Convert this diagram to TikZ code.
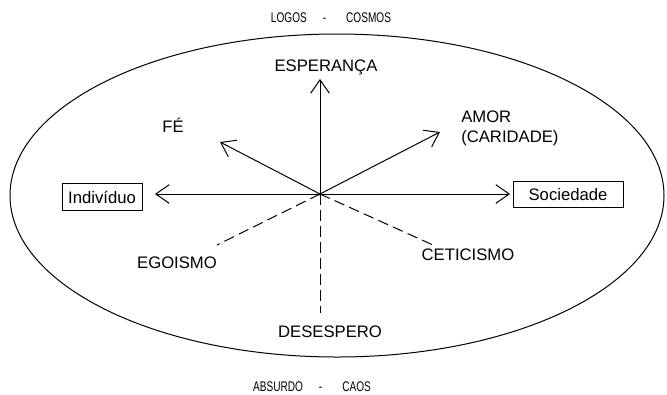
\documentclass[tikz,border=0pt]{standalone}
\usepackage{fontspec}
\setmainfont{Liberation Sans}
\newfontfamily\narrowfont[FakeStretch=0.72]{Liberation Sans}
\usetikzlibrary{arrows.meta}
\tikzset{
    lbl/.style={font=\fontsize{12.5}{15}\selectfont, inner sep=0pt},
    caixa/.style={draw, line width=0.75pt, font=\fontsize{12.5}{15}\selectfont, inner sep=0pt, minimum height=20pt},
    eixo/.style={font=\narrowfont\fontsize{10.5}{12}\selectfont, inner sep=0pt},
    seta/.style={line width=0.75pt, -{Straight Barb[length=10pt,width=14pt,line width=0.75pt]}},
    traco/.style={line width=0.75pt, dash pattern=on 8pt off 4pt},
}
\begin{document}
\begin{tikzpicture}[x=0.75pt,y=-0.75pt]
        \useasboundingbox (0,0) rectangle (667,394);
        \draw [line width=0.75pt] (337,195.5) ellipse [x radius=327, y radius=161.5];
        % titulos
        \node [eixo] (logos) at (331,18) {LOGOS\hspace{12pt}-\hspace{15pt}COSMOS};
        \node [eixo] (absurdo) at (312,387) {ABSURDO\hspace{12pt}-\hspace{15pt}CAOS};
        % centro e pontas
        \coordinate (o) at (320,194);
        \coordinate (pEsp) at (320,79);
        \coordinate (pFe) at (220,142);
        \coordinate (pAmor) at (440,132);
        \coordinate (pInd) at (155,194);
        \coordinate (pSoc) at (510,194);
        \coordinate (pEgo) at (217,245);
        \coordinate (pCet) at (433,245);
        \coordinate (pDes) at (320,313);
        % rotulos
        \node [lbl] (esp) at (326,67) {ESPERANÇA};
        \node [lbl] (fe) at (173,125) {FÉ};
        \node [lbl, anchor=north west, align=left] (amor) at (461,111) {AMOR\\(CARIDADE)};
        \node [caixa, minimum width=60pt] (ind) at (102,197) {Indivíduo};
        \node [caixa, minimum width=82.5pt] (soc) at (568,194.5) {Sociedade};
        \node [lbl] (ego) at (177,263) {EGOISMO};
        \node [lbl] (cet) at (468,255) {CETICISMO};
        \node [lbl] (des) at (330,332) {DESESPERO};
        % setas
        \foreach \p in {pEsp,pFe,pAmor,pInd,pSoc}{
            \draw [seta] (o) -- (\p);
        }
        \foreach \p in {pEgo,pCet,pDes}{
            \draw [traco] (o) -- (\p);
        }
        \fill (o) circle (1.5);
\end{tikzpicture}
\end{document}
